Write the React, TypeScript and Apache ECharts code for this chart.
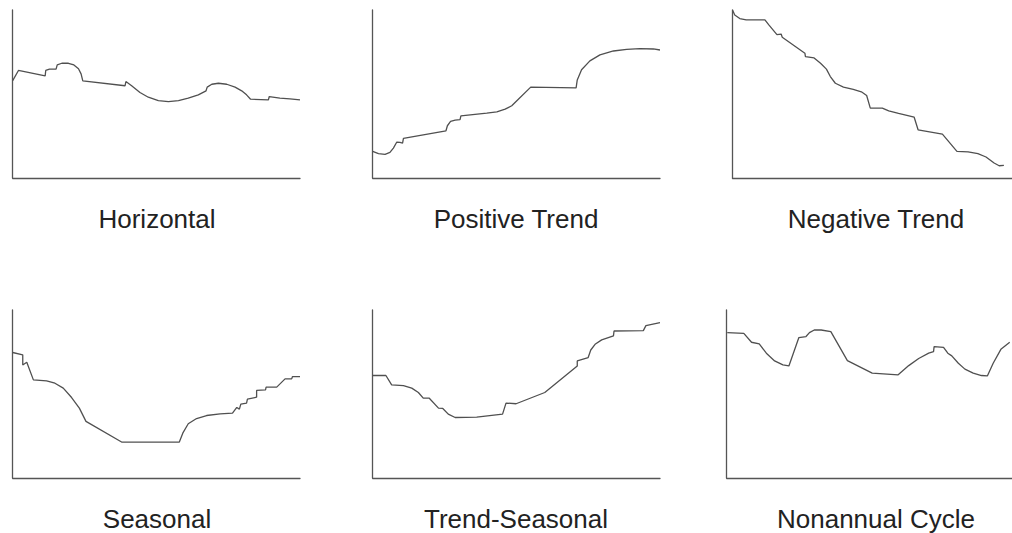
import React, { useEffect, useRef } from "react";
import * as echarts from "echarts";

const titles = ["Horizontal", "Positive Trend", "Negative Trend", "Seasonal", "Trend-Seasonal", "Nonannual Cycle"];

const horizontalData = [
  [0, 58.0], [2.0, 64.0], [11.3, 60.8], [11.5, 64.0], [12.8, 64.8], [15.1, 64.8], [15.5, 67.3],
  [17.1, 68.3], [19.4, 68.3], [21.3, 67.3], [22.9, 65.0], [23.8, 62.0], [24.4, 57.8], [39.1, 54.9],
  [39.4, 57.4], [41.4, 54.9], [44.3, 50.9], [47.2, 48.1], [50.7, 46.1], [54.2, 45.5], [57.7, 46.1],
  [61.1, 47.5], [64.6, 49.5], [67.3, 51.9], [67.7, 54.1], [69.3, 55.8], [71.6, 56.4], [74.5, 55.8],
  [77.4, 54.1], [79.7, 51.9], [81.4, 49.5], [82.8, 46.9], [89.0, 46.5], [89.3, 48.5], [93.0, 47.5],
  [96.5, 47.1], [100, 46.5],
];

const positiveTrendData = [
  [0, 15.8], [2.0, 14.5], [4.3, 14.1], [6.0, 15.2], [7.2, 17.8], [8.4, 21.4], [9.5, 21.2], [10.4, 20.8],
  [10.7, 23.6], [25.5, 28.1], [26.0, 31.1], [27.1, 33.7], [28.7, 34.5], [30.4, 34.7], [30.7, 37.0],
  [39.7, 38.6], [43.2, 39.4], [46.1, 41.0], [48.4, 43.0], [49.9, 45.5], [55.0, 54.1], [70.8, 53.7],
  [71.2, 58.4], [72.7, 64.4], [75.6, 69.7], [79.1, 73.3], [83.8, 75.6], [88.4, 76.6], [93.0, 77.0],
  [97.7, 76.8], [100, 76.2],
];

const negativeTrendData = [
  [0, 100], [0.8, 97.0], [2.6, 94.9], [4.9, 94.1], [11.6, 94.1], [13.0, 91.1], [15.9, 85.3], [17.4, 85.7],
  [17.8, 83.8], [25.9, 74.3], [26.1, 72.3], [29.2, 71.5], [31.5, 68.3], [33.6, 64.8], [35.0, 60.4],
  [36.8, 56.4], [39.7, 54.1], [43.2, 52.7], [46.1, 51.3], [48.0, 49.1], [49.3, 41.6], [53.6, 41.6],
  [55.9, 40.0], [59.4, 38.4], [65.0, 36.2], [66.4, 28.7], [75.1, 26.1], [80.3, 15.8], [84.3, 15.6],
  [87.8, 14.5], [90.7, 12.5], [93.6, 8.9], [95.4, 7.3], [97.1, 7.5],
];

const seasonalData = [
  [0, 74.7], [3.5, 73.3], [3.5, 67.3], [4.9, 68.9], [7.2, 58.4], [11.8, 57.8], [14.7, 56.4], [17.6, 53.5],
  [20.5, 47.9], [23.2, 41.6], [25.5, 33.7], [37.9, 21.4], [58.0, 21.4], [59.2, 26.7], [61.1, 32.3],
  [64.0, 35.4], [67.5, 37.2], [72.2, 38.2], [76.5, 38.6], [78.0, 42.0], [78.9, 41.0], [79.4, 44.0],
  [81.4, 44.6], [81.7, 47.0], [84.9, 48.1], [84.9, 52.1], [88.0, 52.5], [88.2, 54.1], [91.9, 54.1],
  [94.8, 59.0], [97.1, 59.0], [97.4, 60.4], [100, 60.4],
];

const trendSeasonalData = [
  [0, 61.0], [4.6, 61.0], [6.6, 55.4], [10.7, 55.0], [13.6, 53.5], [15.9, 50.9], [17.6, 47.5], [19.7, 47.5],
  [22.9, 41.6], [24.4, 41.4], [26.3, 38.0], [28.7, 36.0], [36.2, 36.2], [45.2, 38.0], [46.4, 44.6],
  [49.9, 44.2], [59.9, 50.9], [71.2, 66.7], [71.2, 69.7], [75.0, 71.7], [75.9, 76.2], [77.4, 79.6],
  [79.7, 82.2], [83.8, 84.6], [84.0, 87.5], [94.2, 87.7], [95.1, 90.7], [100, 92.5],
];

const nonannualCycleData = [
  [0.2, 86.5], [6.0, 86.1], [8.7, 80.8], [11.4, 79.8], [13.9, 74.3], [16.8, 69.7], [19.7, 67.3], [21.8, 66.7],
  [25.3, 83.6], [27.8, 84.2], [29.0, 86.5], [30.7, 88.1], [33.1, 88.1], [36.5, 87.1], [42.3, 69.9],
  [51.0, 62.4], [60.1, 61.4], [63.8, 66.9], [67.3, 71.1], [70.8, 74.3], [72.5, 75.2], [72.7, 78.2],
  [76.0, 77.8], [77.5, 74.3], [78.9, 72.7], [81.2, 68.3], [83.5, 64.8], [86.4, 62.4], [89.3, 61.0],
  [91.4, 60.8], [93.4, 68.3], [96.1, 76.6], [99.2, 80.8],
];

const allData = [horizontalData, positiveTrendData, negativeTrendData, seasonalData, trendSeasonalData, nonannualCycleData];

const gridLefts = [12.7, 372.7, 732.5, 12.7, 372.7, 726.7];
const gridTops = [10, 10, 10, 310, 310, 310];
const titleCenters = [157, 516, 876, 157, 516, 876];
const titleYs = [219, 219, 219, 519, 519, 519];

export default function App() {
  const ref = useRef<HTMLDivElement>(null);
  useEffect(() => {
    if (!ref.current) return;
    const chart = echarts.init(ref.current, null, { renderer: "svg" });
    const axisLine = { show: true, onZero: false, lineStyle: { color: "#555", width: 1.3 } };
    const hidden = {
      axisTick: { show: false },
      axisLabel: { show: false },
      splitLine: { show: false },
    };
    chart.setOption({
      animation: false,
      backgroundColor: "#fff",
      grid: allData.map((_, i) => ({
        left: gridLefts[i],
        top: gridTops[i],
        width: 287.3,
        height: 168,
        containLabel: false,
      })),
      xAxis: allData.map((_, i) => ({
        type: "value",
        gridIndex: i,
        min: 0,
        max: 100,
        axisLine,
        ...hidden,
      })),
      yAxis: allData.map((_, i) => ({
        type: "value",
        gridIndex: i,
        min: 0,
        max: 100,
        axisLine,
        ...hidden,
      })),
      series: allData.map((d, i) => ({
        type: "line",
        xAxisIndex: i,
        yAxisIndex: i,
        data: d,
        showSymbol: false,
        symbol: "none",
        smooth: false,
        lineStyle: { color: "#505050", width: 1.3 },
      })),
      graphic: titles.map((t, i) => ({
        type: "text",
        x: titleCenters[i],
        y: titleYs[i],
        style: {
          text: t,
          fill: "#222",
          font: "26px 'Liberation Sans', Arial, sans-serif",
          textAlign: "center",
          textVerticalAlign: "middle",
        },
      })),
    });
    return () => chart.dispose();
  }, []);
  return (
    <div
      ref={ref}
      style={{ position: "fixed", left: 0, top: 0, width: 1012, height: 533 }}
    />
  );
}
